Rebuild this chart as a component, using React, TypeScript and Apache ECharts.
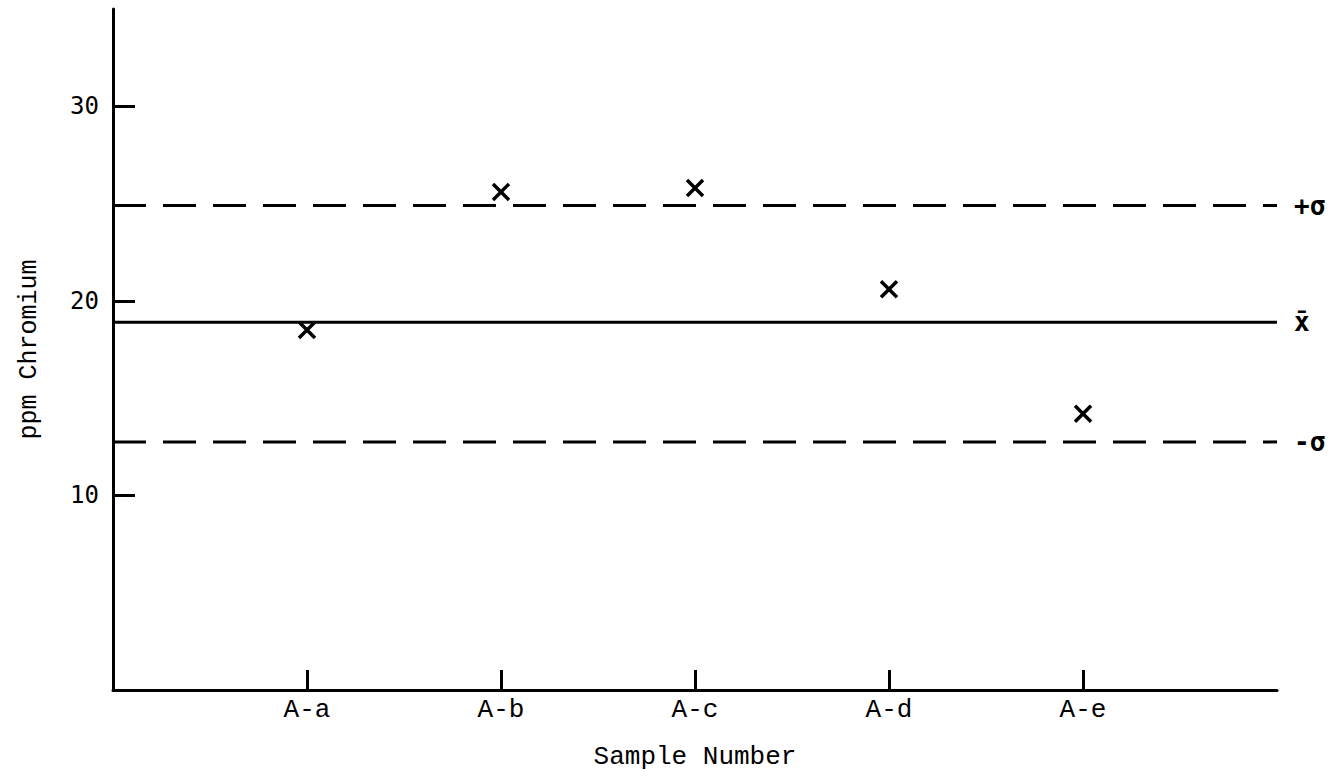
import React, { useEffect, useRef } from "react";
import * as echarts from "echarts";

// Samples along the horizontal axis
const sampleLabels = ["A-a", "A-b", "A-c", "A-d", "A-e"];
const samplePositions = [1, 2, 3, 4, 5];
// Measured chromium concentration (ppm) for each sample
const chromiumPpm = [18.5, 25.6, 25.8, 20.6, 14.2];
// Reference levels: mean and one standard deviation either side
const meanPpm = 18.9;
const plusSigmaPpm = 24.9;
const minusSigmaPpm = 12.75;
// Axis extents and labelled ticks
const xMin = 0;
const xMax = 6;
const yMin = 0;
const yMax = 35;
const yTickValues = [10, 20, 30];

const TEXT_FONT = "'Liberation Mono', 'DejaVu Sans Mono', monospace";
const NUM_FONT = "'DejaVu Sans Mono', 'Liberation Mono', monospace";

export default function App() {
  const ref = useRef<HTMLDivElement>(null);

  useEffect(() => {
    if (!ref.current) return;
    const chart = echarts.init(ref.current, undefined, { renderer: "svg" });

    const refLine = (name: string, value: number, dashed: boolean, label: string) => ({
      name,
      type: "line",
      data: [
        [xMin, value],
        [xMax, value],
      ],
      symbol: "none",
      silent: true,
      lineStyle: {
        color: "#000",
        width: 3,
        type: dashed ? [33, 17] : "solid",
      },
      endLabel: {
        show: true,
        formatter: label,
        distance: 17,
        color: "#000",
        fontFamily: NUM_FONT,
        fontSize: 26,
        fontWeight: "bold",
      },
    });

    chart.setOption({
      animation: false,
      backgroundColor: "#fff",
      grid: { left: 113, right: 59, top: 9, bottom: 86, containLabel: false },
      xAxis: {
        type: "value",
        min: xMin,
        max: xMax,
        interval: 1,
        name: "Sample Number",
        nameLocation: "middle",
        nameGap: 54,
        nameTextStyle: { color: "#000", fontFamily: TEXT_FONT, fontSize: 26 },
        splitLine: { show: false },
        axisLine: { show: true, onZero: false, lineStyle: { color: "#000", width: 3 } },
        axisTick: {
          show: true,
          inside: true,
          length: 20,
          customValues: samplePositions,
          lineStyle: { color: "#000", width: 3 },
        },
        axisLabel: {
          show: true,
          customValues: samplePositions,
          margin: 7,
          color: "#000",
          fontFamily: TEXT_FONT,
          fontSize: 26,
          formatter: (v: number) => sampleLabels[samplePositions.indexOf(v)] ?? "",
        },
      },
      yAxis: {
        type: "value",
        min: yMin,
        max: yMax,
        interval: 10,
        name: "ppm Chromium",
        nameLocation: "middle",
        nameRotate: 90,
        nameGap: 71,
        nameTextStyle: { color: "#000", fontFamily: TEXT_FONT, fontSize: 25 },
        splitLine: { show: false },
        axisLine: { show: true, onZero: false, lineStyle: { color: "#000", width: 3 } },
        axisTick: {
          show: true,
          inside: true,
          length: 22,
          customValues: yTickValues,
          lineStyle: { color: "#000", width: 3 },
        },
        axisLabel: {
          show: true,
          customValues: yTickValues,
          margin: 14,
          color: "#000",
          fontFamily: NUM_FONT,
          fontSize: 24,
        },
      },
      series: [
        refLine("+σ", plusSigmaPpm, true, "+σ"),
        refLine("mean", meanPpm, false, "x\u0304"),
        refLine("-σ", minusSigmaPpm, true, "-σ"),
        {
          name: "ppm Chromium",
          type: "scatter",
          data: samplePositions.map((x, i) => [x, chromiumPpm[i]]),
          symbol: "path://M0,0L10,10M10,0L0,10",
          symbolSize: 16,
          itemStyle: { color: "#000", borderColor: "#000", borderWidth: 3.5, opacity: 1 },
        },
      ],
    });

    return () => chart.dispose();
  }, []);

  return (
    <div
      ref={ref}
      style={{ position: "fixed", left: 0, top: 0, width: 1336, height: 776, background: "#fff" }}
    />
  );
}
